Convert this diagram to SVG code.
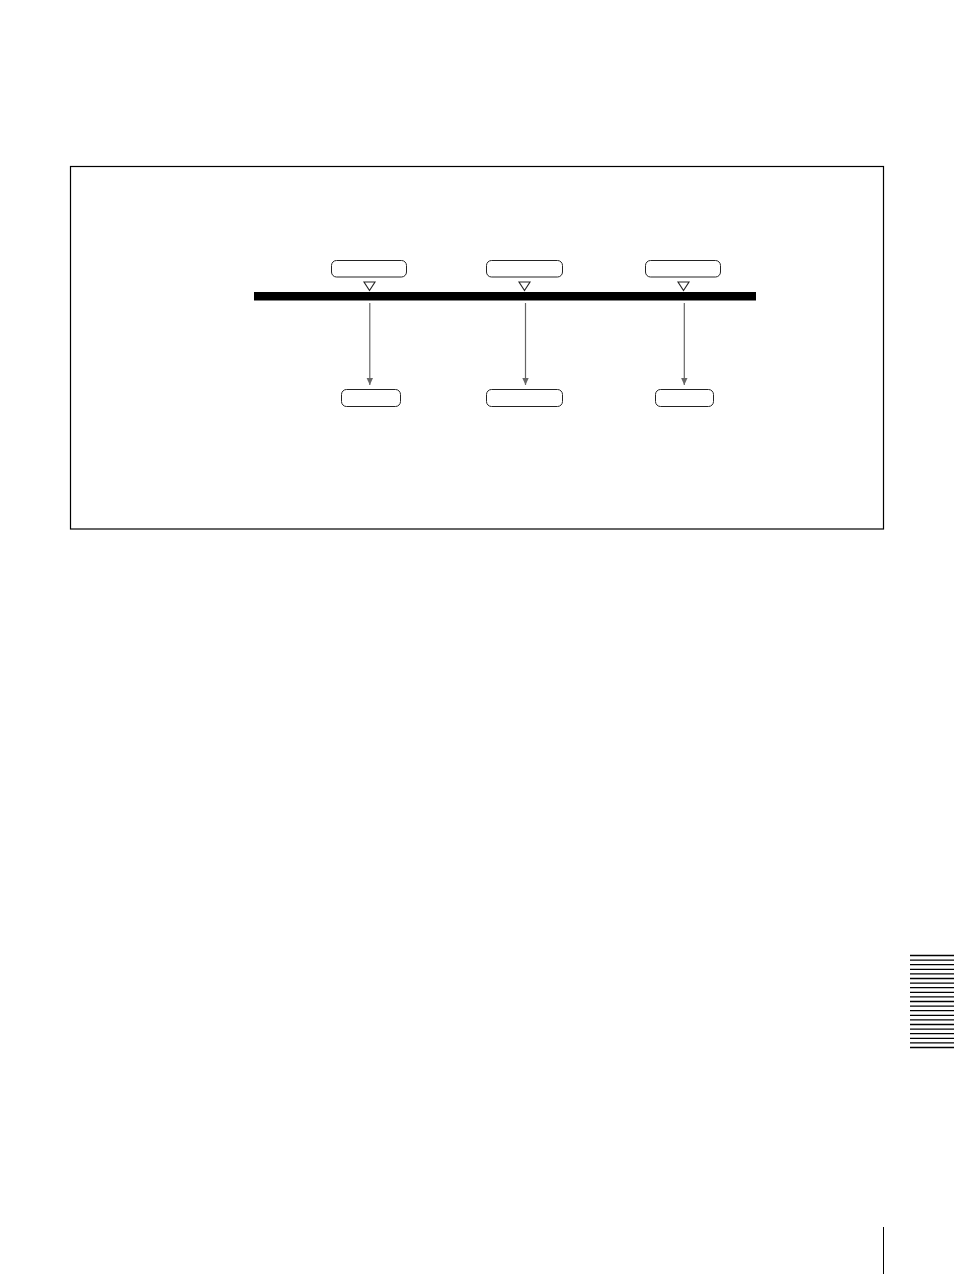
<svg xmlns="http://www.w3.org/2000/svg" width="954" height="1274" viewBox="0 0 954 1274">
<style>
.box{fill:#fff;stroke:#222;stroke-width:1}
.tri{fill:#fff;stroke:#222;stroke-width:1.1}
.arr{stroke:#666;stroke-width:1.2;fill:none}
.stripe{stroke:#000;stroke-width:1.3}
</style>
<defs>
<marker id="ah" markerWidth="8" markerHeight="8" refX="7" refY="4" orient="auto" markerUnits="userSpaceOnUse">
<path d="M0,0.8 L7,4 L0,7.2 Z" fill="#666"/>
</marker>
</defs>
<rect width="954" height="1274" fill="#fff"/>
<rect id="frame" x="70.5" y="166.5" width="813" height="362.5" fill="none" stroke="#000" stroke-width="1.2"/>
<rect id="bus" x="254" y="292" width="502" height="8.5" fill="#000"/>
<g id="top1"><rect class="box" x="331.5" y="260.5" width="75" height="16.5" rx="5"/><path class="tri" d="M364,282 L375,282 L369.5,290.5 Z"/></g>
<g id="top2"><rect class="box" x="486.5" y="260.5" width="76" height="16.5" rx="5"/><path class="tri" d="M519,282 L530,282 L524.5,290.5 Z"/></g>
<g id="top3"><rect class="box" x="645.5" y="260.5" width="75" height="16.5" rx="5"/><path class="tri" d="M678,282 L689,282 L683.5,290.5 Z"/></g>
<g id="bot1"><rect class="box" x="341.5" y="389.5" width="59" height="17" rx="5"/></g>
<g id="bot2"><rect class="box" x="486.5" y="389.5" width="76" height="17" rx="5"/></g>
<g id="bot3"><rect class="box" x="655.5" y="389.5" width="58" height="17" rx="5"/></g>
<g id="connectors">
<line class="arr" x1="369.8" y1="303" x2="369.8" y2="385" marker-end="url(#ah)"/>
<line class="arr" x1="525.5" y1="303" x2="525.5" y2="385" stroke-width="2" marker-end="url(#ah)"/>
<line class="arr" x1="684.3" y1="303" x2="684.3" y2="385" marker-end="url(#ah)"/>
</g>
<g id="tab">
<line class="stripe" x1="910" y1="955.5" x2="954" y2="955.5"/>
<line class="stripe" x1="910" y1="960.1" x2="954" y2="960.1"/>
<line class="stripe" x1="910" y1="964.7" x2="954" y2="964.7"/>
<line class="stripe" x1="910" y1="969.3" x2="954" y2="969.3"/>
<line class="stripe" x1="910" y1="973.9" x2="954" y2="973.9"/>
<line class="stripe" x1="910" y1="978.5" x2="954" y2="978.5"/>
<line class="stripe" x1="910" y1="983.1" x2="954" y2="983.1"/>
<line class="stripe" x1="910" y1="987.7" x2="954" y2="987.7"/>
<line class="stripe" x1="910" y1="992.3" x2="954" y2="992.3"/>
<line class="stripe" x1="910" y1="996.9" x2="954" y2="996.9"/>
<line class="stripe" x1="910" y1="1001.5" x2="954" y2="1001.5"/>
<line class="stripe" x1="910" y1="1006.1" x2="954" y2="1006.1"/>
<line class="stripe" x1="910" y1="1010.7" x2="954" y2="1010.7"/>
<line class="stripe" x1="910" y1="1015.3" x2="954" y2="1015.3"/>
<line class="stripe" x1="910" y1="1019.9" x2="954" y2="1019.9"/>
<line class="stripe" x1="910" y1="1024.5" x2="954" y2="1024.5"/>
<line class="stripe" x1="910" y1="1029.1" x2="954" y2="1029.1"/>
<line class="stripe" x1="910" y1="1033.7" x2="954" y2="1033.7"/>
<line class="stripe" x1="910" y1="1038.3" x2="954" y2="1038.3"/>
<line class="stripe" x1="910" y1="1042.9" x2="954" y2="1042.9"/>
<line class="stripe" x1="910" y1="1047.5" x2="954" y2="1047.5"/>
</g>
<line x1="883.5" y1="1227" x2="883.5" y2="1274" stroke="#000" stroke-width="1"/>
</svg>
